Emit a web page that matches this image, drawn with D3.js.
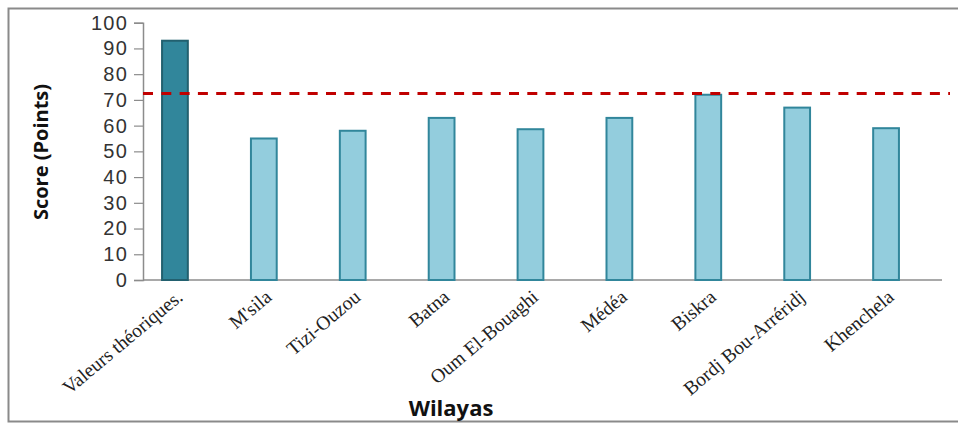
<!DOCTYPE html>
<html>
<head>
<meta charset="utf-8">
<script src="https://cdn.jsdelivr.net/npm/d3@7"></script>
<style>
  html, body { margin: 0; padding: 0; background: #fff; }
  svg { display: block; }
</style>
</head>
<body>
<svg id="chart" width="958" height="423"></svg>
<script>
// Scores per wilaya, with the theoretical reference value first
const categories = ["Valeurs théoriques.", "M'sila", "Tizi-Ouzou", "Batna", "Oum El-Bouaghi",
                    "Médéa", "Biskra", "Bordj Bou-Arréridj", "Khenchela"];
const scores = [93, 55, 58, 63, 58.6, 63, 72, 67, 59];
const threshold = 72.5;
const yTicks = [0, 10, 20, 30, 40, 50, 60, 70, 80, 90, 100];

const svg = d3.select("#chart");

// outer frame
svg.append("rect")
  .attr("x", 8.5).attr("y", 8.5).attr("width", 960).attr("height", 413)
  .attr("fill", "none").attr("stroke", "#8a8a8a").attr("stroke-width", 2);

const x = d3.scaleBand().domain(categories).range([130.5, 930.5]).paddingInner(0.71).paddingOuter(0.355);
const y = d3.scaleLinear().domain([0, 100]).range([280, 22.7]);

// y axis
const yAxis = svg.append("g")
  .attr("transform", "translate(143,0)")
  .call(d3.axisLeft(y).tickValues(yTicks).tickSize(9).tickPadding(6));
yAxis.select(".domain").attr("stroke", "#8c8c8c").attr("stroke-width", 1.5);
yAxis.selectAll(".tick line").attr("stroke", "#8c8c8c").attr("stroke-width", 1.2);
yAxis.selectAll(".tick text")
  .attr("fill", "#333").attr("font-family", "'Liberation Sans', Arial, sans-serif")
  .attr("font-size", 20).attr("letter-spacing", 1.2);

// x baseline
svg.append("line")
  .attr("x1", 143).attr("x2", 942).attr("y1", y(0)).attr("y2", y(0))
  .attr("stroke", "#8c8c8c").attr("stroke-width", 1.5);

// bars
svg.append("g").selectAll("rect")
  .data(categories)
  .join("rect")
  .attr("x", d => x(d))
  .attr("width", x.bandwidth())
  .attr("y", (d, i) => y(scores[i]))
  .attr("height", (d, i) => y(0) - y(scores[i]))
  .attr("fill", (d, i) => i === 0 ? "#31869b" : "#93cddd")
  .attr("stroke", (d, i) => i === 0 ? "#22606f" : "#31869b")
  .attr("stroke-width", 2);

// threshold line
svg.append("line")
  .attr("x1", 143).attr("x2", 950)
  .attr("y1", y(threshold)).attr("y2", y(threshold))
  .attr("stroke", "#c00000").attr("stroke-width", 3)
  .attr("stroke-dasharray", "10,8.3");

// category labels
svg.append("g").selectAll("text")
  .data(categories)
  .join("text")
  .attr("transform", d => `translate(${x(d) + x.bandwidth() / 2 + 9},${299}) rotate(-40)`)
  .attr("text-anchor", "end")
  .attr("font-family", "'Liberation Serif', 'Times New Roman', serif")
  .attr("font-size", 19.5)
  .attr("fill", "#222")
  .text(d => d);

// axis titles
svg.append("text")
  .attr("transform", "translate(48,152) rotate(-90)")
  .attr("text-anchor", "middle")
  .attr("font-family", "'Open Sans', sans-serif")
  .attr("font-weight", "bold").attr("font-size", 20).attr("fill", "#111")
  .text("Score (Points)");

svg.append("text")
  .attr("x", 451).attr("y", 416)
  .attr("text-anchor", "middle")
  .attr("font-family", "'Open Sans', sans-serif")
  .attr("font-weight", "bold").attr("font-size", 22).attr("fill", "#111")
  .text("Wilayas");
</script>
</body>
</html>
